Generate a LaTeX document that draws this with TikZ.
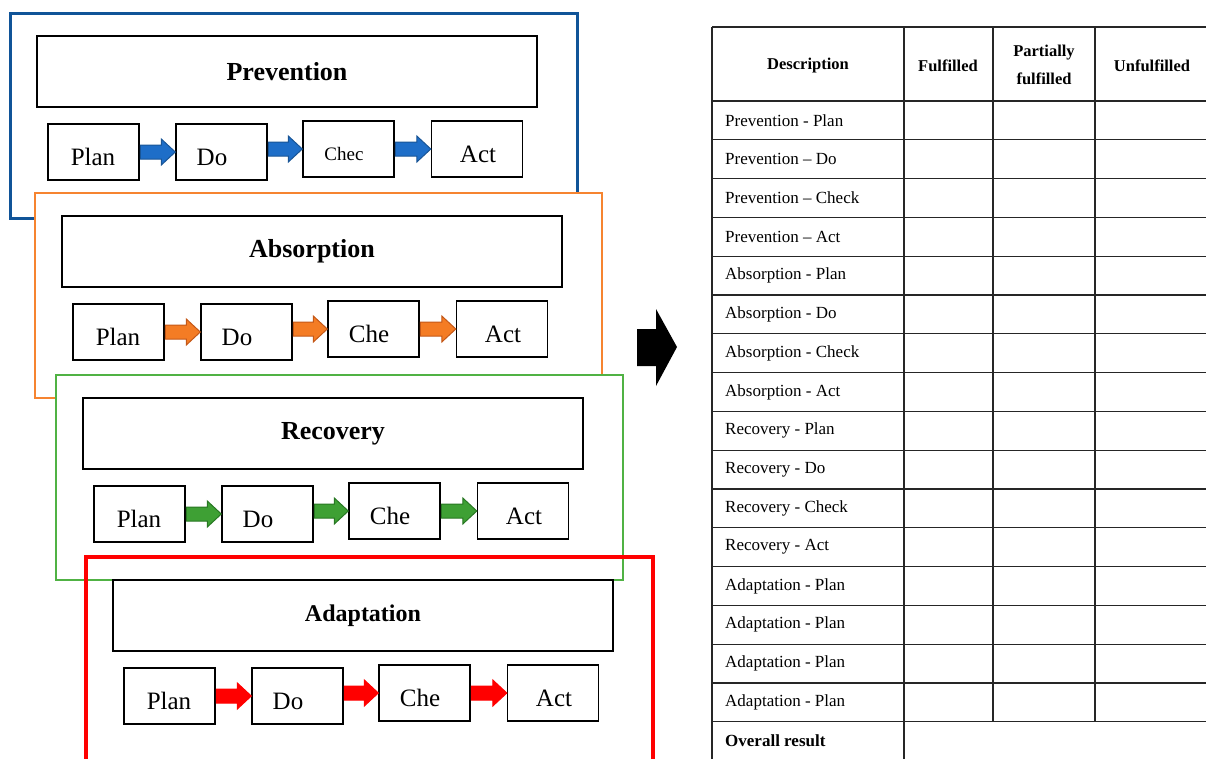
\documentclass[tikz,border=0pt]{standalone}
\usepackage{fontspec}
\setmainfont{Liberation Serif}
\usetikzlibrary{calc}
\definecolor{frblue}{RGB}{16,84,152}
\definecolor{frorange}{RGB}{246,132,48}
\definecolor{frgreen}{RGB}{80,178,68}
\definecolor{frred}{RGB}{255,0,0}
\definecolor{arblue}{RGB}{30,110,200}
\definecolor{arblueo}{RGB}{25,85,150}
\definecolor{arorange}{RGB}{244,124,36}
\definecolor{arorangeo}{RGB}{196,88,24}
\definecolor{argreen}{RGB}{62,160,52}
\definecolor{argreeno}{RGB}{40,120,35}
\begin{document}
\begin{tikzpicture}[x=1pt,y=-1pt,
  titlebox/.style={draw=black, line width=1.4pt, fill=white, minimum width=500pt, minimum height=71pt, inner sep=0pt},
  pbox/.style={draw=black, line width=1.4pt, fill=white, minimum width=91pt, minimum height=56pt, inner sep=0pt},
  ptext/.style={inner sep=0pt, font=\fontsize{25}{25}\selectfont},
  tline/.style={line width=1.3pt, draw=black!85},
  ttext/.style={inner sep=0pt, anchor=west, font=\fontsize{17}{19}\selectfont},
  thead/.style={inner sep=0pt, align=center, font=\bfseries\fontsize{16.5}{28}\selectfont}]
\useasboundingbox (0,0) rectangle (1206,758);
% ---------- left: four nested frames ----------
\foreach \g/\dx/\dy/\fc/\fw/\ff/\title/\ts/\ck/\cs in {
  prev/0/0/frblue/3/white/Prevention/26/Chec/19,
  abs/25/180/frorange/2/white/Absorption/26/Che/25,
  rec/46/362/frgreen/2/white/Recovery/26/Che/25,
  ada/76/544/frred/3.5/none/Adaptation/24/Che/25}{
  \begin{scope}[shift={(\dx,\dy)}]
    \draw[draw=\fc, line width=\fw pt, fill=\ff] (10,13) rectangle (577,218);
    \node[titlebox, font=\bfseries\fontsize{\ts}{\ts}\selectfont] (\g-t) at (287,71.5) {\title};
    \node[pbox] (\g-p) at (93.5,152) {};
    \node[pbox] (\g-d) at (221.5,152) {};
    \node[pbox] (\g-c) at (348.5,149) {};
    \node[pbox] (\g-a) at (477,149) {};
    \node[ptext] (\g-pt) at (93,157) {Plan};
    \node[ptext] (\g-dt) at (212,157) {Do};
    \node[ptext, font=\fontsize{\cs}{\cs}\selectfont] (\g-ct) at (344,154) {\ck};
    \node[ptext] (\g-at) at (478,154) {Act};
  \end{scope}
}
% block arrows between the PDCA boxes
\foreach \g/\fcol/\ocol in {prev/arblue/arblueo, abs/arorange/arorangeo, rec/argreen/argreeno, ada/frred/frred}{
  \foreach \ua/\ub in {p/d, d/c, c/a}{
    \filldraw[fill=\fcol, draw=\ocol, line width=1pt, line join=miter]
      let \p1=(\g-\ua.east), \p2=(\g-\ub.west) in
      (\x1+0.7,\y2+7) -- (\x2-14,\y2+7) -- (\x2-14,\y2+13) -- (\x2,\y2)
      -- (\x2-14,\y2-13) -- (\x2-14,\y2-7) -- (\x1+0.7,\y2-7) -- cycle;
  }
}
% ---------- big black arrow ----------
\fill[black] (637,329) -- (656,329) -- (656,309) -- (677,347) -- (656,386) -- (656,366) -- (637,366) -- cycle;
% ---------- table ----------
\draw[tline] (712,27) -- (1212,27);
\foreach \k in {0,...,16}{
  \draw[tline] (712,{101+38.8*\k}) -- (1212,{101+38.8*\k});
}
\draw[tline] (712,27) -- (712,762);
\draw[tline] (904,27) -- (904,762);
\draw[tline] (993,27) -- (993,721.8);
\draw[tline] (1095,27) -- (1095,721.8);
\node[thead] (h1) at (808,66) {Description};
\node[thead] (h2) at (948,66) {Fulfilled};
\node[thead] (h3) at (1044,65) {Partially\\fulfilled};
\node[thead] (h4) at (1152,66) {Unfulfilled};
\foreach \i/\t in {1/Prevention - Plan, 2/Prevention -- Do, 3/Prevention -- Check, 4/Prevention -- Act,
  5/Absorption - Plan, 6/Absorption - Do, 7/Absorption - Check, 8/Absorption - Act,
  9/Recovery - Plan, 10/Recovery - Do, 11/Recovery - Check, 12/Recovery - Act,
  13/Adaptation - Plan, 14/Adaptation - Plan, 15/Adaptation - Plan, 16/Adaptation - Plan}{
  \node[ttext] (r\i) at (725,{101+38.8*(\i-0.5)}) {\t};
}
\node[ttext, font=\bfseries\fontsize{17}{19}\selectfont] (r17) at (725,741) {Overall result};
\end{tikzpicture}
\end{document}
